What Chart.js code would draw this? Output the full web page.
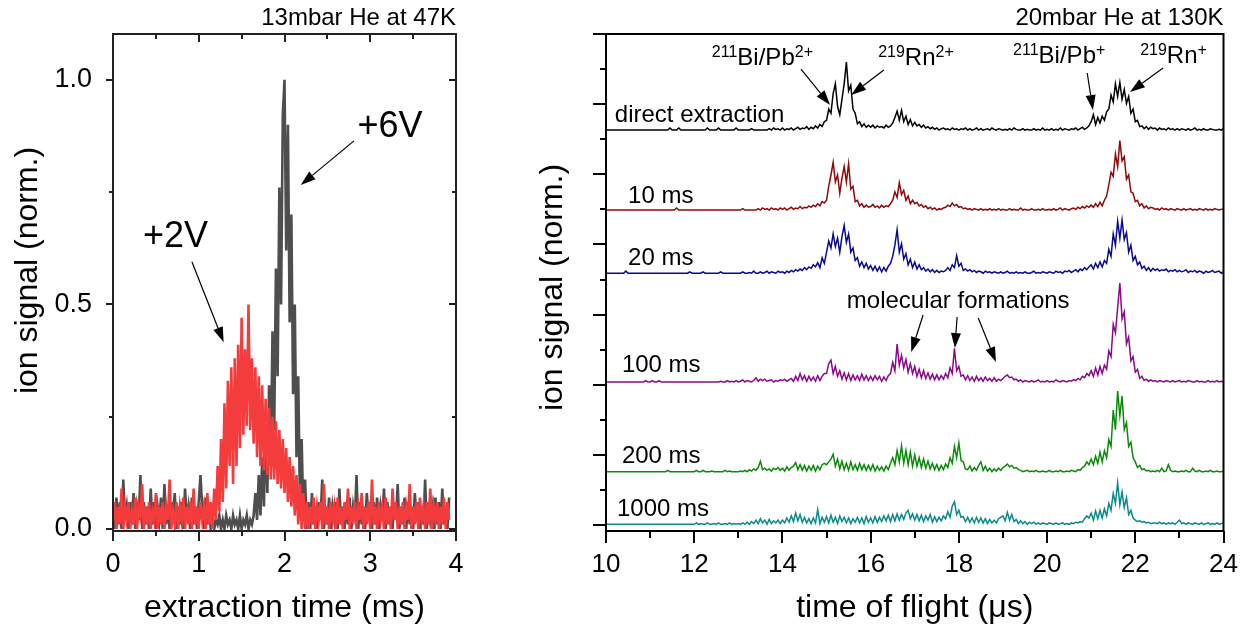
<!DOCTYPE html>
<html>
<head>
<meta charset="utf-8">
<script src="https://cdn.jsdelivr.net/npm/chart.js@4.4.1/dist/chart.umd.min.js"></script>
<style>
  html, body { margin: 0; padding: 0; background: #fff; }
  #wrap { position: relative; width: 1252px; height: 630px; overflow: hidden; }
  #left { position: absolute; left: 0; top: 0; }
  #right { position: absolute; left: 500px; top: 0; }
</style>
</head>
<body>
<div id="wrap">
  <canvas id="left" width="480" height="630" style="width:480px;height:630px"></canvas>
  <canvas id="right" width="752" height="630" style="width:752px;height:630px"></canvas>
</div>
<script>
// ---- left panel: extraction scans, one channel every 0.02 ms, signal in % of max
const EXTRACT_T0 = 0;
const EXTRACT_DT = 0.02;

const scan2V = [
  2,6,0,5,1,9,0,5,2,6,0,4,1,7,0,5,3,10,0,5,
  1,6,0,4,2,8,0,5,1,6,0,5,2,11,0,4,1,6,0,5,
  2,7,0,5,1,6,0,9,1,5,0,6,2,5,0,8,1,6,
  0,9,2,14,4,20,6,28,9,33,14,36,10,38,14,41,18,47,21,40,
  23,50,22,38,19,36,16,34,14,32,13,29,12,27,11,25,11,24,10,22,
  9,20,8,18,6,16,5,14,3,12,1,10,0,8,0,6,
  0,5,1,7,0,5,2,6,0,10,1,5,0,6,2,5,0,7,1,5,
  0,6,2,9,0,5,1,6,0,5,2,8,0,5,1,6,0,11,1,5,
  0,6,2,5,0,7,1,5,0,9,2,6,0,5,1,6,0,5,2,10,
  0,5,1,6,0,7,2,5,0,6,1,9,0,5,2,6,0,5,1,7,
  0,6,2
];

const scan6V = [
  5,0,7,1,6,0,11,2,5,0,6,1,8,0,5,2,12,0,6,1,
  5,0,9,1,6,0,5,2,7,0,10,1,5,0,6,2,8,0,5,1,
  6,0,9,2,5,0,7,1,5,0,6,12,5,0,7,1,5,0,
  3,0,2,1,3,0,2,0,3,1,2,0,3,1,2,0,3,0,2,1,3,0,2,1,3,
  8,2,12,3,16,5,24,8,32,14,44,22,58,34,76,50,92,100,62,90,
  46,70,30,50,16,34,6,20,2,11,0,
  6,0,8,1,5,0,6,2,11,0,5,1,7,0,5,2,6,0,9,1,
  5,0,6,1,7,0,5,2,12,0,6,1,5,0,8,2,5,0,6,1,
  7,0,5,2,9,0,6,1,5,0,6,2,10,0,5,1,7,0,6,1,
  5,0,8,2,6,0,5,1,11,0,6,2,5,0,7,1,6,0,9,1,
  5,0,7
];

const extractMajorX = [0, 1, 2, 3, 4];
const extractMinorX = [0.5, 1.5, 2.5, 3.5];
const extractLabelsX = ['0', '1', '2', '3', '4'];
const extractMajorY = [0, 50, 100];
const extractMinorY = [25, 75];
const extractLabelsY = ['0.0', '0.5', '1.0'];

// ---- right panel: time-of-flight spectra, one channel every 0.05 us
// heights in 1/100 of a major y division, stacked on an offset per storage time
const TOF_T0 = 10;
const TOF_DT = 0.05;
const storageNames = ['direct extraction', '10 ms', '20 ms', '100 ms', '200 ms', '1000 ms'];
const storageOffsets = [563, 449, 359, 204, 76, 1];

const tofDirect = [
  0,0,0,0,0,0,0,0,0,0,0,0,0,0,0,0,0,0,0,0,
  0,0,0,0,0,0,0,0,0,3,0,0,0,3,0,0,0,0,0,0,
  0,0,0,0,0,0,3,0,0,0,0,3,0,0,0,0,0,0,0,3,
  0,0,0,0,0,0,2,0,0,0,0,0,0,0,2,0,3,1,2,0,
  3,0,2,1,3,0,2,4,1,3,2,5,1,4,2,6,3,8,5,12,
  14,30,24,52,66,34,22,44,66,97,56,64,30,24,9,12,5,9,4,7,
  4,7,3,6,4,5,3,7,4,6,10,18,27,14,28,12,20,8,15,6,
  11,6,8,4,7,3,5,2,4,1,3,0,2,3,1,2,0,3,1,2,
  0,2,1,3,0,2,0,1,3,0,2,0,1,2,0,3,1,0,2,1,
  0,1,0,2,0,3,1,0,0,2,0,1,0,0,2,0,1,0,3,0,
  1,0,2,0,1,0,3,0,2,1,0,2,1,3,0,2,4,1,3,6,
  12,22,8,18,10,20,14,26,30,50,40,66,48,68,44,58,38,48,24,30,
  12,14,5,6,2,5,1,4,2,3,0,3,1,2,0,3,1,2,0,2,
  0,2,1,0,2,0,1,3,0,1,0,2,0,0,2,1,0,0,1,0,
  2
];

const tof10ms = [
  0,0,0,0,0,0,0,0,0,0,0,0,0,0,0,0,0,0,0,0,
  0,0,0,0,0,0,0,0,0,0,0,0,3,0,0,0,0,0,0,0,
  0,0,0,0,0,0,0,0,0,0,0,0,0,0,0,0,0,0,0,0,
  0,0,2,0,0,0,0,0,0,2,0,3,1,2,0,3,1,2,0,3,
  1,3,0,2,4,1,3,2,5,2,4,3,6,4,7,5,9,6,12,10,
  14,34,50,68,40,50,24,46,62,40,66,30,34,12,14,6,9,4,7,4,
  5,8,4,6,3,7,4,6,5,9,14,26,18,39,22,28,14,20,9,14,
  9,11,6,8,4,6,2,4,1,3,0,2,1,3,4,7,5,10,6,8,
  4,5,2,3,1,2,0,2,1,0,2,0,1,0,2,0,1,0,2,0,
  1,0,0,2,0,1,0,0,3,0,1,0,0,2,0,0,1,0,2,0,
  0,1,0,2,0,1,3,0,2,1,0,2,3,1,4,2,5,3,6,4,
  7,4,9,5,11,6,14,20,36,54,48,80,62,99,70,76,44,50,26,24,
  12,14,6,9,3,6,2,4,3,1,2,0,3,1,2,0,2,1,0,2,
  1,0,2,0,1,2,0,1,0,2,1,0,2,0,1,0,2,1,0,1,
  2
];

const tof20ms = [
  0,0,0,0,0,0,0,0,0,3,0,0,0,0,0,0,0,0,0,0,
  0,0,0,0,0,0,0,0,0,0,0,0,0,0,0,0,0,0,2,0,
  0,0,0,0,2,0,0,0,0,0,0,0,2,0,0,0,0,0,0,0,
  0,0,2,0,0,1,0,3,0,0,2,0,1,3,0,2,1,0,3,1,
  2,0,3,1,4,2,5,3,6,4,8,5,9,7,12,9,15,8,22,14,
  30,46,36,56,38,50,30,52,68,44,56,30,36,18,22,10,16,8,14,6,
  11,4,10,3,9,2,8,3,10,14,24,40,62,30,42,20,28,12,20,8,
  16,6,12,5,8,3,6,2,5,1,4,1,3,2,4,8,4,12,8,25,
  10,14,4,6,3,5,2,4,1,3,2,0,3,1,2,0,2,1,0,2,
  0,1,3,0,1,0,2,0,1,0,2,0,0,1,3,0,1,0,2,1,
  0,2,1,0,3,1,2,0,3,2,4,1,3,5,2,6,4,8,5,9,
  12,6,14,8,16,9,18,14,34,24,56,40,74,50,76,48,58,30,40,18,
  24,12,16,7,10,4,8,3,7,4,6,3,5,4,6,2,4,3,5,2,
  4,2,3,5,1,3,2,4,1,3,2,0,3,1,2,4,1,2,3,0,
  2
];

const tof100ms = [
  0,0,0,0,0,0,0,0,0,0,0,0,0,0,0,0,0,0,2,0,
  0,2,0,0,2,0,0,0,0,0,0,0,0,0,0,0,0,0,0,0,
  0,0,0,0,0,0,0,0,0,0,0,0,1,0,0,2,0,1,0,2,
  0,1,3,0,2,1,0,2,6,1,4,2,4,1,2,3,0,2,1,3,
  2,4,1,3,5,1,8,2,12,3,9,1,8,2,7,1,9,2,8,12,
  12,26,31,12,22,8,16,4,13,3,12,2,10,3,9,2,11,3,9,2,
  8,2,9,3,8,1,7,2,9,12,28,16,54,24,38,20,32,14,26,12,
  22,8,18,6,16,5,13,4,11,3,10,3,9,4,12,6,20,12,48,16,
  22,8,10,3,9,2,7,1,8,2,6,1,7,2,5,1,6,1,4,2,
  5,8,10,6,7,3,4,1,3,0,2,1,0,2,0,1,3,0,1,0,
  2,0,1,0,3,1,0,2,1,0,2,1,3,2,5,3,8,6,12,9,
  16,8,20,10,22,12,24,18,44,36,82,70,106,141,90,100,54,64,30,36,
  14,18,5,8,2,4,1,3,1,2,0,2,1,0,2,1,0,2,0,1,
  2,0,1,0,2,1,0,0,2,0,1,0,0,2,0,1,0,2,0,1,
  0
];

const tof200ms = [
  0,0,0,0,0,0,0,0,0,0,0,0,0,0,0,0,0,0,0,0,
  0,0,0,0,0,0,0,0,2,0,0,0,0,0,0,0,0,0,0,0,
  0,2,0,0,2,0,0,0,1,0,0,0,0,0,2,0,1,0,0,0,
  0,1,0,2,0,3,1,4,2,6,15,3,5,2,4,1,5,3,6,2,
  5,1,7,2,6,8,13,3,10,2,9,1,8,2,9,1,8,3,10,12,
  10,14,18,25,8,18,4,15,3,12,2,14,3,10,2,12,3,10,2,9,
  2,10,1,8,2,7,1,8,3,12,20,10,30,14,37,12,30,10,28,8,
  24,8,20,6,18,5,15,4,12,3,10,2,9,3,11,6,20,12,36,20,
  41,16,14,4,3,8,1,6,2,9,14,2,8,1,5,0,4,1,5,2,
  6,8,11,7,9,5,6,3,2,0,1,2,0,1,0,2,0,0,1,0,
  0,2,0,0,1,0,2,0,0,1,0,2,1,0,3,2,6,8,14,10,
  18,10,22,12,28,14,30,20,46,36,88,60,115,80,108,60,70,36,42,20,
  14,6,9,3,4,1,2,0,1,0,2,0,5,0,1,10,2,0,1,0,
  0,1,0,2,0,0,5,1,0,2,0,0,1,0,2,0,0,1,0,0,
  1
];

const tof1000ms = [
  0,0,0,0,0,0,0,0,0,0,0,0,0,0,0,0,0,0,0,0,
  0,0,0,0,0,0,0,0,0,0,0,0,0,0,0,0,0,0,0,0,
  0,2,0,1,0,0,2,0,0,1,0,2,0,0,1,0,2,0,1,0,
  1,0,2,0,3,0,4,1,6,1,8,2,6,0,7,1,5,2,6,1,
  6,2,9,3,12,4,16,5,14,3,10,2,8,1,9,2,21,1,10,3,
  11,2,13,3,10,1,12,4,10,2,9,1,8,3,10,2,9,1,11,3,
  9,2,11,3,10,4,12,5,13,4,14,5,15,6,14,7,16,20,8,15,
  6,14,5,13,4,12,6,14,3,11,4,10,5,12,8,18,10,26,32,14,
  20,10,11,4,10,3,9,2,10,3,9,2,8,1,7,2,6,2,8,10,
  12,5,17,6,14,4,7,1,5,1,4,0,3,1,3,0,2,0,2,1,
  0,2,1,0,2,0,1,2,0,1,0,2,1,3,2,4,3,8,12,9,
  16,6,19,8,20,9,22,12,30,20,44,30,59,28,46,24,38,14,20,9,
  6,4,5,3,4,2,3,1,2,2,1,3,1,2,0,2,1,2,0,3,
  6,1,2,0,2,1,0,2,1,0,2,0,1,2,0,1,0,2,0,1,
  2
];

const tofSpectra = [tofDirect, tof10ms, tof20ms, tof100ms, tof200ms, tof1000ms];
const tofColors = ['#000000', '#8c0a0a', '#0a0a8c', '#8a0a8a', '#0a8a0a', '#0a8a8a'];

const tofMajorX = [10, 12, 14, 16, 18, 20, 22, 24];
const tofMinorX = [11, 13, 15, 17, 19, 21, 23];
const tofLabelsX = ['10', '12', '14', '16', '18', '20', '22', '24'];
const tofMajorY = [0, 100, 200, 300, 400, 500, 600, 700];
const tofMinorY = [50, 150, 250, 350, 450, 550, 650];

const FONT = '"Liberation Sans", Arial, Helvetica, sans-serif';

function toPoints(vals, t0, dt, offset) {
  return vals.map((v, i) => ({ x: t0 + i * dt, y: v + (offset || 0) }));
}

// text made of plain and superscript pieces, e.g. [['211', 1], ['Bi/Pb'], ['2+', 1]]
function drawRich(ctx, x, y, parts, size) {
  const sup = Math.round(size * 0.66);
  let cx = x;
  parts.forEach(p => {
    ctx.font = (p[1] ? sup : size) + 'px ' + FONT;
    ctx.fillText(p[0], cx, p[1] ? y - size * 0.32 : y);
    cx += ctx.measureText(p[0]).width;
  });
}

function drawArrow(ctx, x1, y1, x2, y2) {
  const head = 15, half = 5;
  const a = Math.atan2(y2 - y1, x2 - x1);
  const bx = x2 - head * Math.cos(a), by = y2 - head * Math.sin(a);
  ctx.beginPath();
  ctx.moveTo(x1, y1);
  ctx.lineTo(bx, by);
  ctx.stroke();
  ctx.beginPath();
  ctx.moveTo(x2, y2);
  ctx.lineTo(bx + half * Math.sin(a), by - half * Math.cos(a));
  ctx.lineTo(bx - half * Math.sin(a), by + half * Math.cos(a));
  ctx.closePath();
  ctx.fill();
}

// frame, tick marks, titles, labels and arrows
const decorPlugin = {
  id: 'decor',
  afterDatasetsDraw(chart, args, opts) {
    const { ctx, chartArea: area } = chart;
    const xs = chart.scales.x, ys = chart.scales.y;
    ctx.save();
    ctx.strokeStyle = opts.color;
    ctx.fillStyle = '#000';

    ctx.lineWidth = 2;
    opts.tickMarks.forEach(t => {
      t.values.forEach(v => {
        ctx.beginPath();
        if (t.side === 'bottom' || t.side === 'top') {
          const px = Math.round(xs.getPixelForValue(v));
          const edge = t.side === 'bottom' ? area.bottom : area.top;
          const dir = t.side === 'bottom' ? 1 : -1;
          ctx.moveTo(px, edge);
          ctx.lineTo(px, edge + dir * t.len);
        } else {
          const py = Math.round(ys.getPixelForValue(v));
          const edge = t.side === 'left' ? area.left : area.right;
          const dir = t.side === 'left' ? -1 : 1;
          ctx.moveTo(edge, py);
          ctx.lineTo(edge + dir * t.len, py);
        }
        ctx.stroke();
      });
    });
    ctx.strokeRect(area.left, area.top, area.right - area.left, area.bottom - area.top);

    ctx.strokeStyle = '#000';
    ctx.lineWidth = 1.2;
    opts.arrows.forEach(a => {
      drawArrow(ctx, xs.getPixelForValue(a[0]), ys.getPixelForValue(a[1]),
        xs.getPixelForValue(a[2]), ys.getPixelForValue(a[3]));
    });

    ctx.textBaseline = 'alphabetic';
    ctx.textAlign = 'left';
    opts.labels.forEach(l => {
      drawRich(ctx, xs.getPixelForValue(l.x), ys.getPixelForValue(l.y), l.parts, l.size);
    });

    ctx.textAlign = 'right';
    ctx.font = '24px ' + FONT;
    ctx.fillText(opts.title, area.right, area.top - 9);

    ctx.textAlign = 'center';
    ctx.font = '32px ' + FONT;
    ctx.fillText(opts.xTitle, (area.left + area.right) / 2, area.bottom + 86);

    ctx.translate(area.left - opts.yTitleGap, (area.top + area.bottom) / 2 + opts.yTitleShift);
    ctx.rotate(-Math.PI / 2);
    ctx.textBaseline = 'middle';
    ctx.fillText(opts.yTitle, 0, 0);
    ctx.restore();
  }
};

function traceStyle(width) {
  return { borderWidth: width, pointRadius: 0, tension: 0, fill: false, borderJoinStyle: 'miter' };
}

function axisOptions(min, max, major, labels, size, padding, fit) {
  return {
    type: 'linear',
    min: min,
    max: max,
    afterBuildTicks: s => { s.ticks = major.map(v => ({ value: v })); },
    afterFit: fit,
    grid: { display: false },
    border: { display: false },
    ticks: {
      display: !!labels,
      autoSkip: false,
      maxRotation: 0,
      padding: padding,
      color: '#000',
      font: { family: FONT, size: size },
      callback: (v, i) => labels ? labels[i] : ''
    }
  };
}

// left panel
new Chart(document.getElementById('left'), {
  type: 'line',
  data: {
    datasets: [
      Object.assign({ data: toPoints(scan2V, EXTRACT_T0, EXTRACT_DT), borderColor: '#f43c3c' }, traceStyle(2.6)),
      Object.assign({ data: toPoints(scan6V, EXTRACT_T0, EXTRACT_DT), borderColor: '#4e4e4e' }, traceStyle(2.6))
    ]
  },
  options: {
    responsive: false,
    animation: false,
    events: [],
    layout: { padding: { top: 34, right: 24, left: 0, bottom: 0 } },
    scales: {
      x: axisOptions(0, 4, extractMajorX, extractLabelsX, 27, 9, s => { s.height = 99; }),
      y: axisOptions(-0.45, 110.2, extractMajorY, extractLabelsY, 27, 13, s => { s.width = 113; })
    },
    plugins: {
      legend: { display: false },
      tooltip: { enabled: false },
      decor: {
        color: '#222',
        title: '13mbar He at 47K',
        xTitle: 'extraction time (ms)',
        yTitle: 'ion signal (norm.)',
        yTitleGap: 85,
        yTitleShift: -12,
        tickMarks: [
          { side: 'bottom', values: extractMajorX, len: 10 },
          { side: 'bottom', values: extractMinorX, len: 5 },
          { side: 'top', values: extractMajorX, len: -8 },
          { side: 'top', values: extractMinorX, len: -5 },
          { side: 'left', values: extractMajorY, len: 7 },
          { side: 'left', values: extractMinorY, len: 4 },
          { side: 'right', values: extractMajorY, len: -7 },
          { side: 'right', values: extractMinorY, len: -4 }
        ],
        arrows: [
          [2.81, 86.4, 2.19, 76.6],
          [0.92, 59.5, 1.29, 41.6]
        ],
        labels: [
          { x: 2.85, y: 87.3, parts: [['+6V']], size: 36 },
          { x: 0.35, y: 62.8, parts: [['+2V']], size: 36 }
        ]
      }
    }
  },
  plugins: [decorPlugin]
});

// right panel
new Chart(document.getElementById('right'), {
  type: 'line',
  data: {
    datasets: tofSpectra.map((vals, k) => Object.assign({
      label: storageNames[k],
      data: toPoints(vals, TOF_T0, TOF_DT, storageOffsets[k]),
      borderColor: tofColors[k]
    }, traceStyle(1.5)))
  },
  options: {
    responsive: false,
    animation: false,
    events: [],
    layout: { padding: { top: 34, right: 28.5, left: 0, bottom: 0 } },
    scales: {
      x: axisOptions(10, 24, tofMajorX, tofLabelsX, 26, 10, s => { s.height = 99; }),
      y: axisOptions(-8.5, 700, tofMajorY, null, 26, 0, s => { s.width = 106; })
    },
    plugins: {
      legend: { display: false },
      tooltip: { enabled: false },
      decor: {
        color: '#000',
        title: '20mbar He at 130K',
        xTitle: 'time of flight (\u03bcs)',
        yTitle: 'ion signal (norm.)',
        yTitleGap: 53,
        yTitleShift: 5,
        tickMarks: [
          { side: 'bottom', values: tofMajorX, len: 12 },
          { side: 'bottom', values: tofMinorX, len: 7 },
          { side: 'left', values: tofMajorY, len: 13 },
          { side: 'left', values: tofMinorY, len: 6 }
        ],
        arrows: [
          [14.42, 650.1, 15.08, 598.8],
          [16.30, 648.7, 15.56, 613.1],
          [20.91, 644.4, 21.04, 591.7],
          [22.63, 651.5, 21.88, 617.3],
          [17.19, 299.4, 16.92, 246.6],
          [17.96, 296.5, 17.91, 252.4],
          [18.44, 295.1, 18.84, 232.4]
        ],
        labels: [
          { x: 10.2, y: 574.6, parts: [[storageNames[0]]], size: 24 },
          { x: 10.5, y: 459, parts: [[storageNames[1]]], size: 24 },
          { x: 10.5, y: 370.7, parts: [[storageNames[2]]], size: 24 },
          { x: 10.36, y: 218, parts: [[storageNames[3]]], size: 24 },
          { x: 10.36, y: 88.4, parts: [[storageNames[4]]], size: 24 },
          { x: 10.25, y: 12.8, parts: [[storageNames[5]]], size: 24 },
          { x: 12.40, y: 655.8, parts: [['211', 1], ['Bi/Pb'], ['2+', 1]], size: 24 },
          { x: 16.17, y: 655.8, parts: [['219', 1], ['Rn'], ['2+', 1]], size: 24 },
          { x: 19.23, y: 658.7, parts: [['211', 1], ['Bi/Pb'], ['+', 1]], size: 24 },
          { x: 22.11, y: 658.7, parts: [['219', 1], ['Rn'], ['+', 1]], size: 24 },
          { x: 15.46, y: 309.4, parts: [['molecular formations']], size: 24 }
        ]
      }
    }
  },
  plugins: [decorPlugin]
});
</script>
</body>
</html>
